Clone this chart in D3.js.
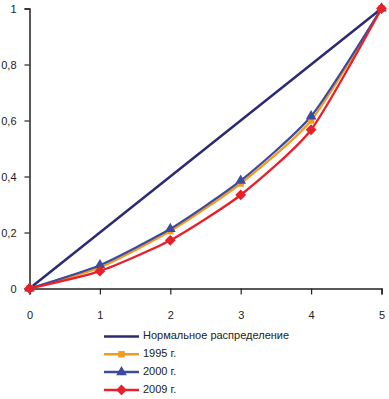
<!DOCTYPE html>
<html>
<head>
<meta charset="utf-8">
<script src="https://cdn.jsdelivr.net/npm/d3@7"></script>
<style>
  body { margin: 0; background: #fff; }
  text { font-family: "Liberation Sans", Arial, sans-serif; fill: #222; }
</style>
</head>
<body>
<svg id="chart" width="389" height="399"></svg>
<script>
// Chart values.
let xValues = [0, 1, 2, 3, 4, 5];
let normalValues = [0, 0.2, 0.4, 0.6, 0.8, 1];
let values1995 = [0, 0.075, 0.205, 0.375, 0.6, 1];
let values2000 = [0, 0.083, 0.213, 0.385, 0.615, 1];
let values2009 = [0, 0.062, 0.172, 0.334, 0.567, 1];
let yTicks = [0, 0.2, 0.4, 0.6, 0.8, 1];
let seriesNames = ['Нормальное распределение', '1995 г.', '2000 г.', '2009 г.'];

let series = [
  {name: seriesNames[0], values: normalValues, color: '#2b2b72', marker: null},
  {name: seriesNames[1], values: values1995, color: '#f39a20', marker: 'square'},
  {name: seriesNames[2], values: values2000, color: '#3b4c9e', marker: 'triangle'},
  {name: seriesNames[3], values: values2009, color: '#e8202a', marker: 'diamond'},
];

// Marker shapes: diamond is a square turned by 45 degrees.
let markerPath = {
  square: d3.symbol().type(d3.symbolSquare).size(42)(),
  triangle: d3.symbol().type(d3.symbolTriangle).size(50)(),
  diamond: d3.symbol().type(d3.symbolSquare).size(58)(),
};
let markerRotate = {square: 0, triangle: 0, diamond: 45};

let svg = d3.select('#chart');
let x = d3.scaleLinear().domain([0, 5]).range([29.5, 381.5]);
let y = d3.scaleLinear().domain([0, 1]).range([288.5, 8.5]);

// Axes.
let fmt = d => d === 0 || d === 1 ? String(d) : d.toFixed(1).replace('.', ',');
let yAxis = svg.append('g')
    .attr('transform', 'translate(29.5,0)')
    .call(d3.axisLeft(y).tickValues(yTicks).tickFormat(fmt).tickSizeOuter(0).tickSize(5).tickPadding(8));
let xAxis = svg.append('g')
    .attr('transform', 'translate(0,288.5)')
    .call(d3.axisBottom(x).tickValues(xValues).tickFormat(d3.format('d')).tickSizeOuter(0).tickSize(6).tickPadding(17));
[xAxis, yAxis].forEach(ax => {
  ax.select('.domain').attr('stroke', '#222').attr('stroke-width', 1.5);
  ax.selectAll('.tick line').attr('stroke', '#222').attr('stroke-width', 1.2);
  ax.selectAll('.tick text').style('font-size', '11px').attr('fill', '#222');
});

// Lines (the yearly series are slightly smoothed, as in the original).
let straight = d3.line()
    .x((d, i) => x(xValues[i]))
    .y(d => y(d));
let smooth = d3.line()
    .x((d, i) => x(xValues[i]))
    .y(d => y(d))
    .curve(d3.curveCardinal.tension(0.4));

series.forEach(s => {
  svg.append('path')
      .attr('d', (s.marker ? smooth : straight)(s.values))
      .attr('fill', 'none')
      .attr('stroke', s.color)
      .attr('stroke-width', s.marker ? 2.3 : 2.5)
      .attr('stroke-linejoin', 'round');
});

// Markers.
series.filter(s => s.marker).forEach(s => {
  svg.append('g').selectAll('path')
      .data(s.values)
      .join('path')
      .attr('transform', (d, i) => 'translate(' + x(xValues[i]) + ',' + y(d) + ') rotate(' + markerRotate[s.marker] + ')')
      .attr('d', markerPath[s.marker])
      .attr('fill', s.color);
});

// Legend.
let legend = svg.append('g').attr('transform', 'translate(104,0)');
series.forEach((s, i) => {
  let ly = 336.5 + i * 17.8;
  legend.append('line')
      .attr('x1', 0).attr('x2', 35)
      .attr('y1', ly).attr('y2', ly)
      .attr('stroke', s.color)
      .attr('stroke-width', 2.5);
  if (s.marker) {
    legend.append('path')
        .attr('transform', 'translate(17.5,' + ly + ') rotate(' + markerRotate[s.marker] + ')')
        .attr('d', markerPath[s.marker])
        .attr('fill', s.color);
  }
  legend.append('text')
      .attr('x', 39)
      .attr('y', ly)
      .attr('dominant-baseline', 'middle')
      .style('font-size', '11px')
      .text(s.name);
});
</script>
</body>
</html>
